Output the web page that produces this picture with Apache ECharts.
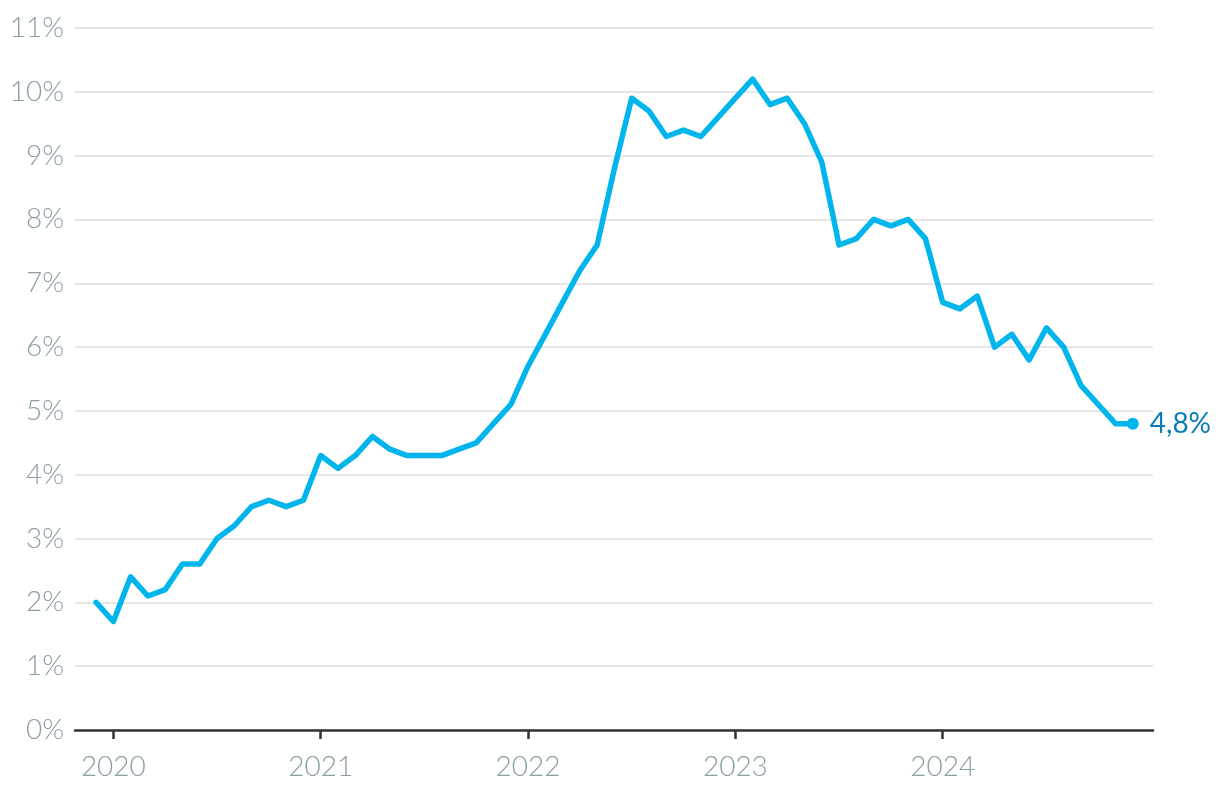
<!DOCTYPE html>
<html>
<head>
<meta charset="utf-8">
<script src="https://cdn.jsdelivr.net/npm/echarts@6/dist/echarts.min.js"></script>
<style>
html,body{margin:0;padding:0;background:#fff;}
#chart{width:1220px;height:796px;}
</style>
</head>
<body>
<div id="chart"></div>
<script>
// Months from Dec 2019 to Dec 2024
const months = [
  '2019-12',
  '2020-01','2020-02','2020-03','2020-04','2020-05','2020-06','2020-07','2020-08','2020-09','2020-10','2020-11','2020-12',
  '2021-01','2021-02','2021-03','2021-04','2021-05','2021-06','2021-07','2021-08','2021-09','2021-10','2021-11','2021-12',
  '2022-01','2022-02','2022-03','2022-04','2022-05','2022-06','2022-07','2022-08','2022-09','2022-10','2022-11','2022-12',
  '2023-01','2023-02','2023-03','2023-04','2023-05','2023-06','2023-07','2023-08','2023-09','2023-10','2023-11','2023-12',
  '2024-01','2024-02','2024-03','2024-04','2024-05','2024-06','2024-07','2024-08','2024-09','2024-10','2024-11','2024-12'
];
const values = [
  2.0,
  1.7, 2.4, 2.1, 2.2, 2.6, 2.6, 3.0, 3.2, 3.5, 3.6, 3.5, 3.6,
  4.3, 4.1, 4.3, 4.6, 4.4, 4.3, 4.3, 4.3, 4.4, 4.5, 4.8, 5.1,
  5.7, 6.2, 6.7, 7.2, 7.6, 8.8, 9.9, 9.7, 9.3, 9.4, 9.3, 9.6,
  9.9, 10.2, 9.8, 9.9, 9.5, 8.9, 7.6, 7.7, 8.0, 7.9, 8.0, 7.7,
  6.7, 6.6, 6.8, 6.0, 6.2, 5.8, 6.3, 6.0, 5.4, 5.1, 4.8, 4.8
];
const yearTicks = ['2020','2021','2022','2023','2024'];
const endLabel = '4,8%';

const tickIdx = yearTicks.map(y => months.indexOf(y + '-01'));
const seriesData = values.map((v, i) => {
  if (i === values.length - 1) {
    return {
      value: [i, v],
      symbol: 'circle',
      symbolSize: 12,
      itemStyle: { color: '#00b5ec' },
      label: {
        show: true, position: 'right', distance: 11,
        formatter: endLabel,
        color: '#0a7db8', fontFamily: 'Lato', fontSize: 28, fontWeight: 400
      }
    };
  }
  return { value: [i, v], symbol: 'none' };
});

const chart = echarts.init(document.getElementById('chart'), null, { renderer: 'canvas' });
chart.setOption({
  animation: false,
  backgroundColor: '#ffffff',
  grid: { left: 75, right: 67, top: 28, bottom: 66, containLabel: false },
  xAxis: {
    type: 'value',
    min: -1.22,
    max: 61.17,
    splitLine: { show: false },
    axisLine: { show: true, onZero: false, lineStyle: { color: '#333333', width: 2.5 } },
    axisTick: { show: true, customValues: tickIdx, length: 9, lineStyle: { color: '#333333', width: 2.5 } },
    axisLabel: {
      customValues: tickIdx,
      formatter: function (v) { return months[Math.round(v)].slice(0, 4); },
      color: '#8a9ea6', fontFamily: 'Lato', fontWeight: 300, fontSize: 28, margin: 23
    }
  },
  yAxis: {
    type: 'value',
    min: 0, max: 11, interval: 1,
    axisLine: { show: false },
    axisTick: { show: false },
    splitLine: { show: true, lineStyle: { color: '#e6e6e6', width: 2 } },
    axisLabel: {
      formatter: '{value}%',
      color: '#8a9ea6', fontFamily: 'Lato', fontWeight: 300, fontSize: 28, margin: 11
    }
  },
  series: [{
    type: 'line',
    data: seriesData,
    showSymbol: true,
    lineStyle: { color: '#00b5ec', width: 5.5, cap: 'round', join: 'round' },
    itemStyle: { color: '#00b5ec' },
    z: 3
  }]
});
</script>
</body>
</html>
